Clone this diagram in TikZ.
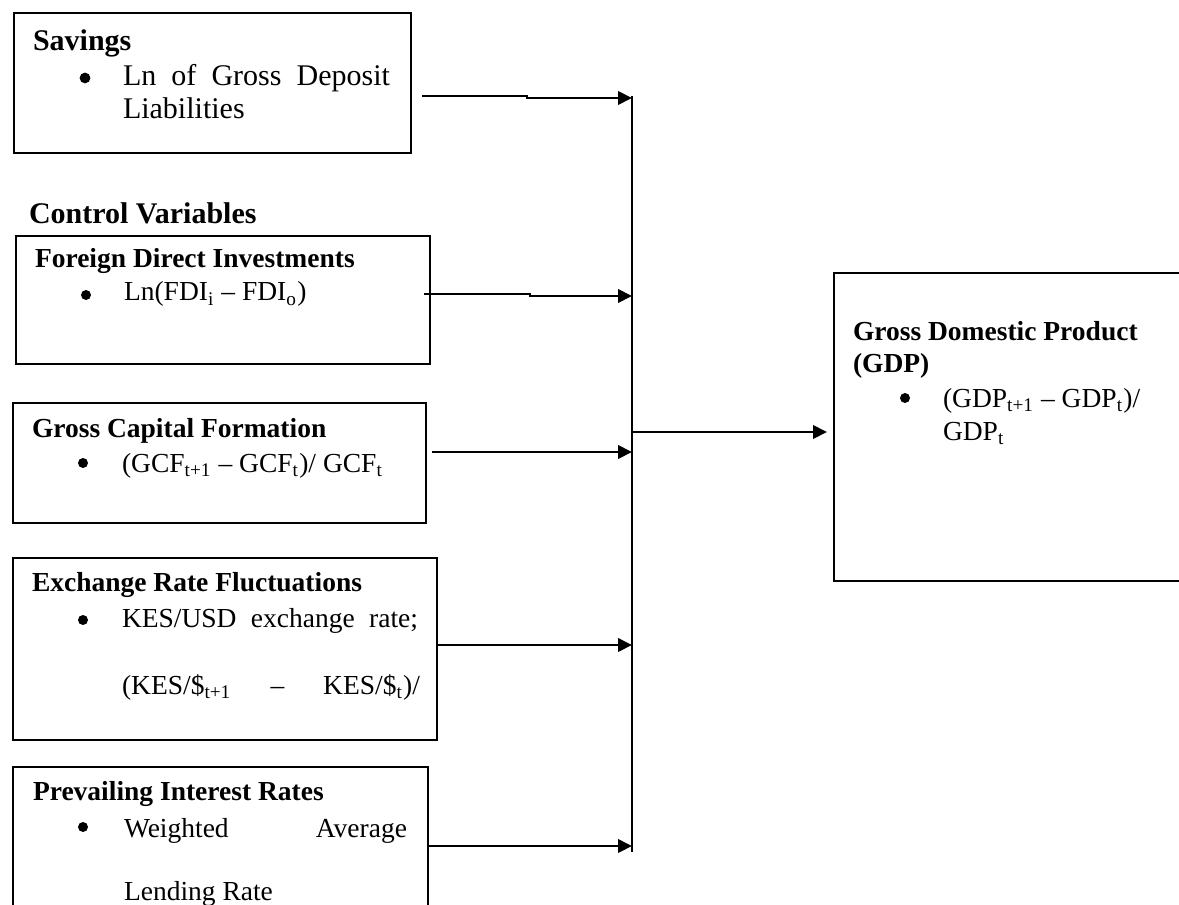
\documentclass[tikz,border=0pt]{standalone}
\usepackage{fontspec}
\setmainfont{Liberation Serif}
\usetikzlibrary{arrows.meta,fit}
\begin{document}
\begin{tikzpicture}[x=0.4pt,y=-0.4pt,
  box/.style={draw, line width=0.8pt, inner sep=0pt, outer sep=0pt},
  t12/.style={anchor=base west, inner sep=0pt, outer sep=0pt, font=\fontsize{12}{14}\selectfont},
  b12/.style={t12, font=\fontsize{12}{14}\selectfont\bfseries},
  t11/.style={anchor=base west, inner sep=0pt, outer sep=0pt, font=\fontsize{11}{13}\selectfont},
  b11/.style={t11, font=\fontsize{11}{13}\selectfont\bfseries},
  bul/.style={circle, fill=black, inner sep=0pt, minimum size=4pt},
  link/.style={line width=0.8pt},
  arr/.style={link, -{Triangle[length=5.6pt,width=5.4pt]}}]
\useasboundingbox (0,0) rectangle (1179,905);
\clip (0,0) rectangle (1179,905);

% box corners
\coordinate (savA) at (14,13);   \coordinate (savB) at (411,153);
\coordinate (fdiA) at (16,236);  \coordinate (fdiB) at (430,364);
\coordinate (gcfA) at (13,403);  \coordinate (gcfB) at (426,523);
\coordinate (excA) at (13,558);  \coordinate (excB) at (437,740);
\coordinate (intA) at (13,767);  \coordinate (intB) at (428,930);
\coordinate (gdpA) at (834,273); \coordinate (gdpB) at (1200,581);

\node[box, fit=(savA)(savB)] (sav) {};
\node[box, fit=(fdiA)(fdiB)] (fdi) {};
\node[box, fit=(gcfA)(gcfB)] (gcf) {};
\node[box, fit=(excA)(excB)] (exc) {};
\node[box, fit=(intA)(intB)] (int) {};
\node[box, fit=(gdpA)(gdpB)] (gdp) {};

% Savings
\node[b12] (savT) at (33,51) {Savings};
\node[bul, minimum size=4.3pt] (savD) at (85,78) {};
\node[t12] (savL1) at (123,86) {\makebox[106.8pt][s]{Ln of Gross Deposit}};
\node[t12] (savL2) at (123,119) {Liabilities};

\node[b12] (ctrl) at (29,224) {Control Variables};

% FDI
\node[b11] (fdiT) at (35,268) {Foreign Direct Investments};
\node[bul] (fdiD) at (86,295) {};
\node[t11] (fdiL1) at (124,301) {Ln(FDI\textsubscript{i} – FDI\textsubscript{o})};

% GCF
\node[b11] (gcfT) at (32,437) {Gross Capital Formation};
\node[bul] (gcfD) at (83,463) {};
\node[t11] (gcfL1) at (122,472) {(GCF\textsubscript{t+1} – GCF\textsubscript{t})/ GCF\textsubscript{t}};

% Exchange
\node[b11] (excT) at (32,591) {Exchange Rate Fluctuations};
\node[bul] (excD) at (83,620) {};
\node[t11] (excL1) at (122,627) {\makebox[118.4pt][s]{KES/USD exchange rate;}};
\node[t11] (excL2) at (122,694) {\makebox[119.2pt][s]{(KES/\$\textsubscript{t+1} – KES/\$\textsubscript{t})/}};

% Interest
\node[b11] (intT) at (33,800) {Prevailing Interest Rates};
\node[bul] (intD) at (83,827) {};
\node[t11] (intL1) at (124,837) {\makebox[113.2pt][s]{Weighted Average}};
\node[t11] (intL2) at (124,900) {Lending Rate};

% GDP
\node[b11] (gdpT1) at (853,340) {Gross Domestic Product};
\node[b11] (gdpT2) at (853,372) {(GDP)};
\node[bul] (gdpD) at (905,398) {};
\node[t11] (gdpL1) at (943,407) {(GDP\textsubscript{t+1} – GDP\textsubscript{t})/};
\node[t11] (gdpL2) at (943,440) {GDP\textsubscript{t}};

% connectors
\coordinate (busT) at (632,96);
\coordinate (busB) at (632,852);
\draw[link] (busT) -- (busB);

\coordinate (a1s) at (422,96.5); \coordinate (a1m) at (527,96.5); \coordinate (a1n) at (527,98); \coordinate (a1e) at (632,98);
\coordinate (a2s) at (424,294.5); \coordinate (a2m) at (530,294.5); \coordinate (a2n) at (530,296); \coordinate (a2e) at (632,296);
\coordinate (a3s) at (432,452); \coordinate (a3e) at (632,452);
\coordinate (a4s) at (437,645); \coordinate (a4e) at (632,645);
\coordinate (a5s) at (428,846); \coordinate (a5e) at (632,846);
\coordinate (os) at (633,432); \coordinate (oe) at (827,432);

\draw[arr] (a1s) -- (a1m) -- (a1n) -- (a1e);
\draw[arr] (a2s) -- (a2m) -- (a2n) -- (a2e);
\draw[arr] (a3s) -- (a3e);
\draw[arr] (a4s) -- (a4e);
\draw[arr] (a5s) -- (a5e);
\draw[arr] (os) -- (oe);
\end{tikzpicture}
\end{document}
